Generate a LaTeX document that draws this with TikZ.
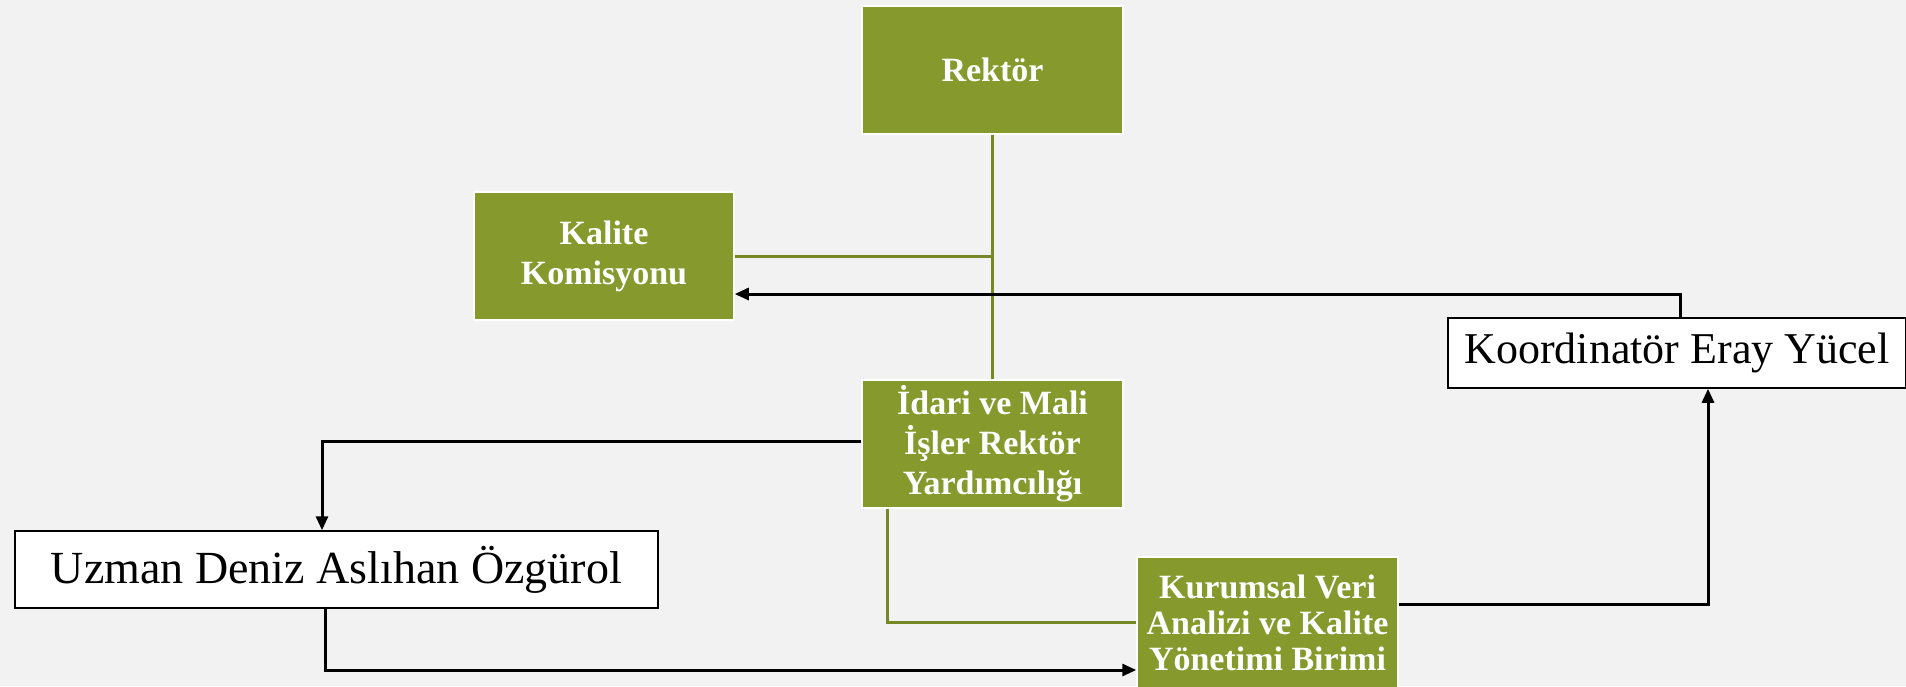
\documentclass[tikz,border=0pt]{standalone}
\usepackage{fontspec}
\setmainfont{Liberation Serif}
\usetikzlibrary{arrows.meta}
\definecolor{boxgreen}{RGB}{134,153,45}
\definecolor{linegreen}{RGB}{118,136,38}
\definecolor{paper}{RGB}{242,242,242}

\begin{document}
\begin{tikzpicture}[x=1pt,y=1pt,yscale=-1,
  greenbox/.style={fill=boxgreen, draw=white, line width=1.5pt, text=white, align=center,
    inner sep=0pt, minimum width=261, minimum height=128,
    font=\fontsize{34}{40}\selectfont\bfseries},
  namebox/.style={fill=white, draw=black, line width=1.5pt, inner sep=0pt,
    font=\fontsize{44}{50}\selectfont},
  greenline/.style={draw=linegreen, line width=3pt},
  blackarrow/.style={draw=black, line width=3pt, -{Triangle[length=14pt,width=12pt]}}]

% Background
\useasboundingbox (0,0) rectangle (1906,686);
\fill[paper] (0,0) rectangle (1906,686);

% Green boxes
\node[greenbox] (rektor) at (992.5,70) {Rektör};
\node[greenbox, minimum width=260] (kalite) at (604,256) {Kalite\\Komisyonu};
\node[greenbox] (idari) at (992.5,444) {İdari ve Mali\\İşler Rektör\\Yardımcılığı};
\node[greenbox, minimum height=131, font=\fontsize{34}{36}\selectfont\bfseries] (kurumsal) at (1267.5,622.5) {Kurumsal Veri\\Analizi ve Kalite\\Yönetimi Birimi};

% Name boxes
\node[namebox, minimum width=643, minimum height=77, font=\fontsize{46}{50}\selectfont] (uzman) at (336.5,569.5) {Uzman Deniz Aslıhan Özgürol};
\node[namebox, minimum width=458, minimum height=70] (koord) at (1677,353) {Koordinatör Eray Yücel};

% Turning points
\coordinate (kturn) at (1680,294);
\coordinate (uturn) at (322,441);
\coordinate (lturn) at (325,670);
\coordinate (rturn) at (1708,604);
\coordinate (gturn) at (887,621.5);

% Green lines
\draw[greenline] (rektor.south) -- (idari.north);
\draw[greenline] (kalite.east) -- (kalite.east -| rektor.south);
\draw[greenline] (gturn |- idari.south) |- (kurumsal.west);

% Black arrows
\draw[blackarrow] (kturn |- koord.north) -- (kturn) -- (kturn -| kalite.east);
\draw[blackarrow] (idari.west |- uturn) -- (uturn) -- (uturn |- uzman.north);
\draw[blackarrow] (lturn |- uzman.south) -- (lturn) -- (lturn -| kurumsal.west);
\draw[blackarrow] (rturn -| kurumsal.east) -- (rturn) -- (rturn |- koord.south);

\end{tikzpicture}
\end{document}
